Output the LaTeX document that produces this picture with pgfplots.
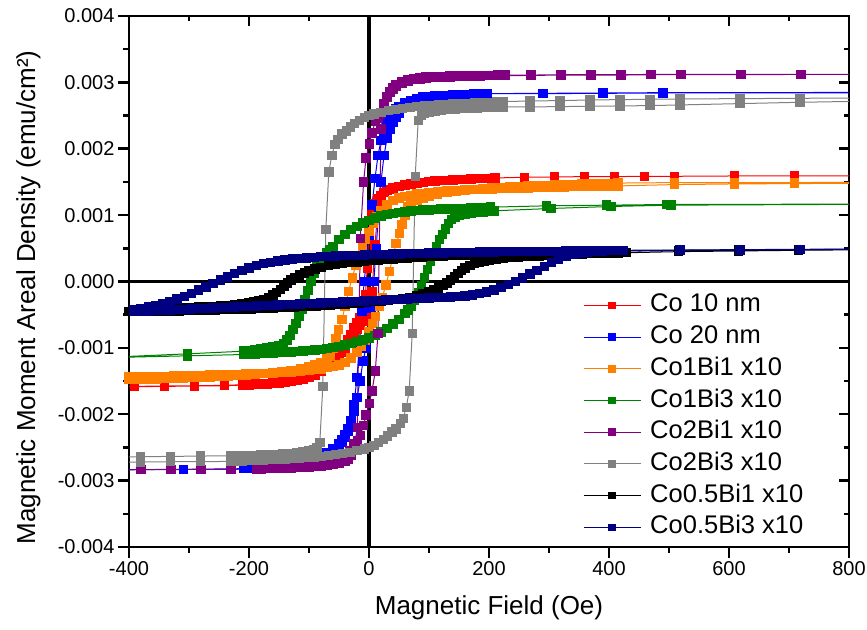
\documentclass[border=0pt]{standalone}
\usepackage{fontspec}
\setmainfont{Liberation Sans}
\usepackage{pgfplots}
\pgfplotsset{compat=1.18}

\definecolor{cRed}{RGB}{255,0,0}
\definecolor{cBlue}{RGB}{0,0,255}
\definecolor{cOrange}{RGB}{255,128,0}
\definecolor{cGreen}{RGB}{0,128,0}
\definecolor{cPurple}{RGB}{128,0,128}
\definecolor{cGray}{RGB}{128,128,128}
\definecolor{cBlack}{RGB}{0,0,0}
\definecolor{cNavy}{RGB}{0,0,128}

\begin{document}
\begin{tikzpicture}
\useasboundingbox (0,0) rectangle (867pt,629pt);

% inward ticks on the top and right edges
\begin{axis}[
  at={(129pt,82pt)}, anchor=south west,
  scale only axis, width=720pt, height=531pt,
  xmin=-400, xmax=800, ymin=-0.004, ymax=0.004,
  xtick={-400,-200,0,200,400,600,800},
  ytick={-0.004,-0.003,-0.002,-0.001,0,0.001,0.002,0.003,0.004},
  minor x tick num=1, minor y tick num=1,
  xticklabels={}, yticklabels={},
  scaled ticks=false,
  tick align=inside, xtick pos=right, ytick pos=right,
  major tick length=10pt, minor tick length=5pt,
  tick style={black, line width=2.5pt},
  axis line style={draw=none},
]
\end{axis}

\begin{axis}[
  at={(129pt,82pt)}, anchor=south west,
  scale only axis, width=720pt, height=531pt,
  xmin=-400, xmax=800, ymin=-0.004, ymax=0.004,
  xtick={-400,-200,0,200,400,600,800},
  xticklabels={-400,-200,0,200,400,600,800},
  ytick={-0.004,-0.003,-0.002,-0.001,0,0.001,0.002,0.003,0.004},
  yticklabels={-0.004,-0.003,-0.002,-0.001,0.000,0.001,0.002,0.003,0.004},
  minor x tick num=1, minor y tick num=1,
  scaled ticks=false,
  tick align=outside, xtick pos=left, ytick pos=left,
  major tick length=11pt, minor tick length=6pt,
  tick style={black, line width=2.5pt},
  axis line style={line width=2.5pt},
  ticklabel style={font=\fontsize{20}{24}\selectfont},
  every axis plot/.append style={line width=1pt, mark=square*, mark size=4.2pt, mark options={solid}},
  legend style={at={(0.6306,0.477)}, anchor=north west, draw=none, fill=none,
    inner sep=0pt, row sep=8.7pt, column sep=9pt,
    font=\fontsize{25.5}{30}\selectfont,
    nodes={inner sep=0pt, text height=18pt, text depth=5pt}},
  legend cell align=left,
  legend image code/.code={
    \draw[mark size=3.3pt, mark repeat=2, mark phase=2]
      plot coordinates {(0pt,0pt) (28.5pt,0pt) (57pt,0pt)};
  },
]

% zero lines
\draw[line width=3.5pt] (axis cs:0,-0.004) -- (axis cs:0,0.004);
\draw[line width=3.5pt] (axis cs:-400,0) -- (axis cs:800,0);

% Co 10 nm
\addplot[color=cRed] table[x=F,y=M] {
F M
909 1.59e-3
809 1.59e-3
709 1.59e-3
609 1.59e-3
509 1.585e-3
459 1.585e-3
409 1.58e-3
359 1.58e-3
309 1.575e-3
259 1.57e-3
210 1.56e-3
200 1.555e-3
190 1.55e-3
180 1.548e-3
170 1.545e-3
160 1.54e-3
150 1.535e-3
140 1.53e-3
130 1.525e-3
120 1.52e-3
110 1.512e-3
100 1.505e-3
90 1.495e-3
80 1.485e-3
70 1.47e-3
60 1.455e-3
50 1.435e-3
40 1.41e-3
35 1.39e-3
30 1.37e-3
25 1.34e-3
20 1.30e-3
15 1.25e-3
10 1.17e-3
5 1.05e-3
0 0.75e-3
-3 0.2e-3
-6 -0.2e-3
-10 -0.45e-3
-15 -0.55e-3
-20 -0.62e-3
-25 -0.69e-3
-30 -0.8e-3
-35 -0.88e-3
-40 -0.95e-3
-45 -1.0e-3
-50 -1.05e-3
-55 -1.1e-3
-60 -1.15e-3
-70 -1.23e-3
-80 -1.3e-3
-90 -1.36e-3
-100 -1.41e-3
-110 -1.44e-3
-120 -1.47e-3
-130 -1.49e-3
-140 -1.505e-3
-150 -1.515e-3
-160 -1.525e-3
-170 -1.535e-3
-180 -1.54e-3
-190 -1.545e-3
-200 -1.55e-3
-210 -1.555e-3
-241 -1.565e-3
-291 -1.57e-3
-341 -1.575e-3
-391 -1.58e-3
-441 -1.58e-3
-441 -1.585e-3
-391 -1.585e-3
-341 -1.58e-3
-291 -1.575e-3
-241 -1.57e-3
-210 -1.56e-3
-200 -1.558e-3
-190 -1.555e-3
-180 -1.55e-3
-170 -1.545e-3
-160 -1.54e-3
-150 -1.53e-3
-140 -1.52e-3
-130 -1.51e-3
-120 -1.495e-3
-110 -1.475e-3
-100 -1.45e-3
-90 -1.41e-3
-80 -1.36e-3
-70 -1.3e-3
-60 -1.23e-3
-55 -1.18e-3
-50 -1.13e-3
-45 -1.07e-3
-40 -1.0e-3
-35 -0.93e-3
-30 -0.86e-3
-25 -0.79e-3
-20 -0.72e-3
-15 -0.66e-3
-10 -0.6e-3
-5 -0.52e-3
0 -0.4e-3
5 -0.15e-3
10 0.55e-3
15 1.12e-3
20 1.28e-3
25 1.34e-3
30 1.37e-3
35 1.39e-3
40 1.41e-3
50 1.435e-3
60 1.455e-3
70 1.47e-3
80 1.485e-3
90 1.495e-3
100 1.505e-3
110 1.512e-3
120 1.52e-3
130 1.525e-3
140 1.53e-3
150 1.535e-3
160 1.54e-3
170 1.545e-3
180 1.548e-3
190 1.55e-3
200 1.555e-3
210 1.56e-3
259 1.57e-3
309 1.575e-3
359 1.58e-3
409 1.58e-3
459 1.585e-3
509 1.585e-3
609 1.59e-3
709 1.59e-3
809 1.59e-3
909 1.59e-3
};
\addlegendentry{Co 10 nm}

% Co 20 nm
\addplot[color=cBlue] table[x=F,y=M] {
F M
1000 2.845e-3
490 2.84e-3
390 2.835e-3
290 2.83e-3
197 2.83e-3
185 2.825e-3
170 2.82e-3
155 2.815e-3
140 2.81e-3
125 2.80e-3
110 2.795e-3
100 2.79e-3
90 2.78e-3
80 2.76e-3
70 2.73e-3
60 2.70e-3
50 2.64e-3
45 2.60e-3
40 2.54e-3
35 2.47e-3
30 2.38e-3
25 2.27e-3
20 2.12e-3
15 1.90e-3
10 1.55e-3
5 1.15e-3
0 0.70e-3
-4 0.35e-3
-8 0.0e-3
-12 -0.45e-3
-16 -0.95e-3
-20 -1.45e-3
-25 -1.85e-3
-30 -2.10e-3
-35 -2.25e-3
-40 -2.35e-3
-45 -2.42e-3
-50 -2.47e-3
-60 -2.55e-3
-70 -2.60e-3
-80 -2.65e-3
-90 -2.68e-3
-100 -2.71e-3
-115 -2.74e-3
-130 -2.765e-3
-145 -2.78e-3
-160 -2.795e-3
-175 -2.805e-3
-190 -2.815e-3
-209 -2.82e-3
-309 -2.83e-3
-409 -2.835e-3
-509 -2.84e-3
-509 -2.84e-3
-409 -2.835e-3
-309 -2.83e-3
-209 -2.82e-3
-195 -2.815e-3
-180 -2.805e-3
-165 -2.79e-3
-150 -2.775e-3
-135 -2.755e-3
-120 -2.735e-3
-105 -2.71e-3
-90 -2.67e-3
-80 -2.63e-3
-70 -2.58e-3
-60 -2.52e-3
-50 -2.44e-3
-45 -2.38e-3
-40 -2.31e-3
-35 -2.22e-3
-30 -2.10e-3
-25 -1.95e-3
-20 -1.75e-3
-15 -1.50e-3
-10 -1.20e-3
-5 -1.00e-3
0 -0.80e-3
4 -0.40e-3
8 0.0e-3
12 0.50e-3
16 1.05e-3
20 1.50e-3
25 1.90e-3
30 2.15e-3
35 2.30e-3
40 2.40e-3
45 2.48e-3
50 2.54e-3
60 2.63e-3
70 2.69e-3
80 2.73e-3
90 2.76e-3
100 2.78e-3
115 2.795e-3
130 2.805e-3
145 2.81e-3
160 2.82e-3
175 2.825e-3
197 2.83e-3
290 2.835e-3
390 2.84e-3
490 2.845e-3
1000 2.85e-3
};
\addlegendentry{Co 20 nm}

% Co1Bi1 x10
\addplot[color=cOrange] table[x=F,y=M] {
F M
909 1.49e-3
809 1.48e-3
709 1.475e-3
609 1.47e-3
509 1.46e-3
415 1.44e-3
400 1.438e-3
385 1.435e-3
370 1.432e-3
355 1.43e-3
340 1.427e-3
325 1.424e-3
310 1.42e-3
295 1.417e-3
280 1.414e-3
265 1.41e-3
250 1.407e-3
235 1.404e-3
220 1.40e-3
205 1.395e-3
190 1.39e-3
175 1.385e-3
160 1.38e-3
145 1.375e-3
130 1.365e-3
115 1.355e-3
100 1.34e-3
90 1.33e-3
80 1.32e-3
70 1.30e-3
60 1.28e-3
50 1.26e-3
40 1.22e-3
30 1.15e-3
20 1.06e-3
13 0.98e-3
7 0.88e-3
0 0.75e-3
-6 0.63e-3
-11 0.53e-3
-17 0.38e-3
-22 0.25e-3
-28 0.05e-3
-34 -0.15e-3
-40 -0.38e-3
-45 -0.57e-3
-51 -0.72e-3
-55 -0.86e-3
-60 -1.0e-3
-65 -1.12e-3
-70 -1.17e-3
-80 -1.22e-3
-90 -1.26e-3
-100 -1.29e-3
-114 -1.32e-3
-130 -1.345e-3
-145 -1.36e-3
-160 -1.375e-3
-175 -1.39e-3
-190 -1.40e-3
-205 -1.41e-3
-220 -1.42e-3
-235 -1.427e-3
-250 -1.434e-3
-265 -1.44e-3
-280 -1.445e-3
-295 -1.45e-3
-310 -1.455e-3
-325 -1.46e-3
-340 -1.465e-3
-355 -1.468e-3
-370 -1.472e-3
-385 -1.476e-3
-400 -1.48e-3
-415 -1.483e-3
-509 -1.49e-3
-509 -1.46e-3
-415 -1.44e-3
-400 -1.438e-3
-385 -1.435e-3
-370 -1.432e-3
-355 -1.43e-3
-340 -1.427e-3
-325 -1.424e-3
-310 -1.42e-3
-295 -1.417e-3
-280 -1.414e-3
-265 -1.41e-3
-250 -1.407e-3
-235 -1.404e-3
-220 -1.40e-3
-205 -1.395e-3
-190 -1.39e-3
-175 -1.385e-3
-160 -1.38e-3
-145 -1.375e-3
-130 -1.365e-3
-115 -1.355e-3
-100 -1.34e-3
-90 -1.33e-3
-80 -1.32e-3
-70 -1.30e-3
-60 -1.28e-3
-50 -1.26e-3
-40 -1.22e-3
-30 -1.15e-3
-20 -1.06e-3
-13 -0.98e-3
-7 -0.88e-3
0 -0.75e-3
6 -0.63e-3
11 -0.53e-3
17 -0.38e-3
22 -0.25e-3
28 -0.05e-3
34 0.15e-3
40 0.38e-3
45 0.57e-3
51 0.72e-3
55 0.86e-3
60 1.0e-3
65 1.12e-3
70 1.17e-3
80 1.22e-3
90 1.26e-3
100 1.29e-3
114 1.32e-3
130 1.345e-3
145 1.36e-3
160 1.375e-3
175 1.39e-3
190 1.40e-3
205 1.41e-3
220 1.42e-3
235 1.427e-3
250 1.434e-3
265 1.44e-3
280 1.445e-3
295 1.45e-3
310 1.455e-3
325 1.46e-3
340 1.465e-3
355 1.468e-3
370 1.472e-3
385 1.476e-3
400 1.48e-3
415 1.483e-3
509 1.49e-3
609 1.49e-3
709 1.49e-3
809 1.495e-3
909 1.495e-3
};
\addlegendentry{Co1Bi1 x10}

% Co1Bi3 x10
\addplot[color=cGreen] table[x=F,y=M] {
F M
996 1.17e-3
496 1.16e-3
396 1.15e-3
296 1.14e-3
202 1.12e-3
190 1.115e-3
180 1.11e-3
170 1.107e-3
160 1.104e-3
150 1.10e-3
140 1.097e-3
130 1.094e-3
120 1.09e-3
110 1.085e-3
100 1.08e-3
90 1.075e-3
80 1.07e-3
70 1.06e-3
60 1.05e-3
50 1.04e-3
40 1.025e-3
30 1.005e-3
20 0.985e-3
10 0.955e-3
0 0.92e-3
-10 0.88e-3
-20 0.83e-3
-30 0.78e-3
-40 0.71e-3
-50 0.63e-3
-60 0.53e-3
-65 0.48e-3
-70 0.43e-3
-76 0.37e-3
-82 0.29e-3
-87 0.22e-3
-92 0.12e-3
-97 0.0e-3
-102 -0.14e-3
-107 -0.28e-3
-112 -0.42e-3
-117 -0.53e-3
-122 -0.63e-3
-127 -0.72e-3
-132 -0.81e-3
-137 -0.88e-3
-143 -0.93e-3
-150 -0.96e-3
-160 -0.985e-3
-170 -1.0e-3
-180 -1.015e-3
-190 -1.03e-3
-200 -1.04e-3
-209 -1.05e-3
-303 -1.09e-3
-403 -1.13e-3
-503 -1.15e-3
-503 -1.16e-3
-403 -1.14e-3
-303 -1.12e-3
-209 -1.10e-3
-200 -1.095e-3
-190 -1.09e-3
-180 -1.085e-3
-170 -1.08e-3
-160 -1.075e-3
-150 -1.07e-3
-140 -1.065e-3
-130 -1.06e-3
-120 -1.055e-3
-110 -1.05e-3
-100 -1.04e-3
-90 -1.03e-3
-80 -1.02e-3
-70 -1.005e-3
-60 -0.99e-3
-50 -0.975e-3
-40 -0.955e-3
-30 -0.93e-3
-20 -0.905e-3
-10 -0.88e-3
0 -0.85e-3
10 -0.81e-3
20 -0.76e-3
30 -0.71e-3
40 -0.64e-3
50 -0.57e-3
60 -0.48e-3
65 -0.43e-3
70 -0.37e-3
76 -0.28e-3
82 -0.17e-3
87 -0.06e-3
92 0.06e-3
97 0.18e-3
102 0.30e-3
107 0.43e-3
112 0.53e-3
117 0.63e-3
122 0.71e-3
127 0.79e-3
132 0.87e-3
137 0.93e-3
143 0.97e-3
150 0.99e-3
160 1.01e-3
170 1.025e-3
180 1.04e-3
190 1.05e-3
200 1.06e-3
209 1.065e-3
303 1.10e-3
403 1.13e-3
503 1.15e-3
996 1.17e-3
};
\addlegendentry{Co1Bi3 x10}

% Co2Bi1 x10
\addplot[color=cPurple] table[x=F,y=M] {
F M
920 3.12e-3
820 3.12e-3
720 3.12e-3
620 3.115e-3
520 3.115e-3
470 3.115e-3
420 3.11e-3
370 3.11e-3
320 3.11e-3
270 3.105e-3
227 3.10e-3
215 3.10e-3
205 3.10e-3
195 3.10e-3
185 3.095e-3
175 3.095e-3
165 3.09e-3
155 3.09e-3
145 3.085e-3
135 3.08e-3
125 3.08e-3
115 3.075e-3
105 3.07e-3
95 3.06e-3
85 3.05e-3
75 3.04e-3
65 3.02e-3
55 2.99e-3
45 2.94e-3
40 2.90e-3
35 2.85e-3
30 2.78e-3
25 2.68e-3
19 2.52e-3
15 2.46e-3
10.5 2.41e-3
5 2.24e-3
0.5 2.07e-3
-5 1.86e-3
-9 1.50e-3
-14.5 0.65e-3
-19.5 -2.20e-3
-24.5 -2.50e-3
-30 -2.62e-3
-35 -2.68e-3
-40 -2.71e-3
-50 -2.74e-3
-60 -2.76e-3
-70 -2.77e-3
-80 -2.78e-3
-90 -2.79e-3
-100 -2.795e-3
-110 -2.80e-3
-120 -2.805e-3
-130 -2.81e-3
-140 -2.81e-3
-150 -2.815e-3
-160 -2.82e-3
-170 -2.82e-3
-180 -2.825e-3
-187 -2.825e-3
-230 -2.83e-3
-280 -2.83e-3
-330 -2.835e-3
-380 -2.835e-3
-430 -2.84e-3
-430 -2.84e-3
-380 -2.835e-3
-330 -2.835e-3
-280 -2.83e-3
-230 -2.83e-3
-187 -2.825e-3
-180 -2.82e-3
-170 -2.82e-3
-160 -2.815e-3
-150 -2.81e-3
-140 -2.805e-3
-130 -2.80e-3
-120 -2.795e-3
-110 -2.79e-3
-100 -2.78e-3
-90 -2.77e-3
-80 -2.75e-3
-70 -2.73e-3
-60 -2.71e-3
-50 -2.68e-3
-40 -2.62e-3
-33 -2.55e-3
-25 -2.45e-3
-19.5 -2.40e-3
-14.5 -2.32e-3
-9 -2.17e-3
-5 -2.01e-3
0.5 -1.84e-3
5 -1.65e-3
10.5 -1.35e-3
15 -0.78e-3
20 2.30e-3
25 2.60e-3
30 2.78e-3
35 2.86e-3
40 2.92e-3
45 2.96e-3
55 3.01e-3
65 3.04e-3
75 3.06e-3
85 3.07e-3
95 3.08e-3
105 3.085e-3
115 3.09e-3
125 3.09e-3
135 3.095e-3
145 3.095e-3
155 3.10e-3
165 3.10e-3
175 3.10e-3
185 3.105e-3
195 3.105e-3
205 3.105e-3
215 3.11e-3
227 3.11e-3
270 3.11e-3
320 3.115e-3
370 3.115e-3
420 3.115e-3
470 3.12e-3
520 3.12e-3
620 3.12e-3
720 3.12e-3
820 3.12e-3
920 3.12e-3
};
\addlegendentry{Co2Bi1 x10}

% Co2Bi3 x10
\addplot[color=cGray] table[x=F,y=M] {
F M
918 2.77e-3
818 2.765e-3
718 2.76e-3
618 2.755e-3
518 2.75e-3
468 2.745e-3
418 2.74e-3
368 2.735e-3
318 2.725e-3
268 2.72e-3
224 2.71e-3
212 2.705e-3
200 2.70e-3
188 2.695e-3
176 2.69e-3
164 2.685e-3
152 2.68e-3
140 2.675e-3
128 2.67e-3
116 2.665e-3
104 2.655e-3
92 2.645e-3
80 2.635e-3
68 2.625e-3
56 2.61e-3
44 2.595e-3
32 2.575e-3
20 2.55e-3
8 2.525e-3
0 2.50e-3
-8 2.47e-3
-16 2.43e-3
-24 2.38e-3
-31 2.33e-3
-38 2.27e-3
-45 2.22e-3
-52 2.14e-3
-57 2.06e-3
-62 1.90e-3
-67 1.65e-3
-72 0.78e-3
-77 -1.58e-3
-82 -2.43e-3
-87 -2.50e-3
-92 -2.53e-3
-100 -2.555e-3
-110 -2.57e-3
-120 -2.58e-3
-132 -2.59e-3
-144 -2.60e-3
-156 -2.605e-3
-168 -2.61e-3
-180 -2.615e-3
-192 -2.618e-3
-204 -2.62e-3
-216 -2.622e-3
-224 -2.625e-3
-231 -2.625e-3
-281 -2.63e-3
-331 -2.635e-3
-381 -2.64e-3
-431 -2.645e-3
-431 -2.72e-3
-381 -2.72e-3
-331 -2.715e-3
-281 -2.715e-3
-231 -2.71e-3
-224 -2.71e-3
-212 -2.705e-3
-200 -2.70e-3
-188 -2.695e-3
-176 -2.69e-3
-164 -2.685e-3
-152 -2.68e-3
-140 -2.675e-3
-128 -2.67e-3
-116 -2.665e-3
-104 -2.655e-3
-92 -2.645e-3
-80 -2.635e-3
-68 -2.625e-3
-56 -2.61e-3
-44 -2.595e-3
-32 -2.575e-3
-20 -2.55e-3
-8 -2.525e-3
0 -2.50e-3
8 -2.47e-3
16 -2.43e-3
24 -2.38e-3
31 -2.33e-3
38 -2.27e-3
45 -2.22e-3
52 -2.14e-3
57 -2.06e-3
62 -1.90e-3
67 -1.65e-3
72 -0.78e-3
77 1.58e-3
82 2.43e-3
87 2.50e-3
92 2.53e-3
100 2.555e-3
110 2.57e-3
120 2.58e-3
132 2.59e-3
144 2.60e-3
156 2.605e-3
168 2.61e-3
180 2.615e-3
192 2.618e-3
204 2.62e-3
216 2.625e-3
224 2.63e-3
268 2.63e-3
318 2.635e-3
368 2.64e-3
418 2.645e-3
468 2.65e-3
518 2.66e-3
618 2.68e-3
718 2.70e-3
818 2.715e-3
918 2.725e-3
};
\addlegendentry{Co2Bi3 x10}

% Co0.5Bi1 x10
\addplot[color=cBlack] table[x=F,y=M] {
F M
916 0.49e-3
816 0.485e-3
716 0.48e-3
616 0.475e-3
516 0.47e-3
424 0.46e-3
412 0.458e-3
400 0.456e-3
388 0.454e-3
376 0.452e-3
364 0.45e-3
352 0.448e-3
340 0.446e-3
328 0.444e-3
316 0.442e-3
304 0.44e-3
292 0.437e-3
280 0.434e-3
268 0.431e-3
256 0.428e-3
244 0.425e-3
232 0.422e-3
220 0.419e-3
208 0.416e-3
196 0.412e-3
184 0.408e-3
172 0.404e-3
160 0.40e-3
148 0.395e-3
136 0.39e-3
124 0.385e-3
112 0.38e-3
100 0.374e-3
88 0.368e-3
76 0.362e-3
64 0.355e-3
52 0.348e-3
40 0.34e-3
28 0.332e-3
16 0.324e-3
4 0.315e-3
-8 0.305e-3
-20 0.295e-3
-32 0.285e-3
-44 0.272e-3
-56 0.258e-3
-68 0.24e-3
-80 0.215e-3
-90 0.19e-3
-100 0.16e-3
-108 0.13e-3
-116 0.095e-3
-124 0.055e-3
-130 0.02e-3
-136 -0.02e-3
-142 -0.07e-3
-148 -0.12e-3
-154 -0.17e-3
-160 -0.205e-3
-168 -0.24e-3
-176 -0.27e-3
-184 -0.29e-3
-192 -0.305e-3
-200 -0.32e-3
-212 -0.335e-3
-224 -0.348e-3
-236 -0.358e-3
-248 -0.366e-3
-260 -0.373e-3
-272 -0.38e-3
-284 -0.386e-3
-296 -0.392e-3
-308 -0.397e-3
-320 -0.402e-3
-332 -0.406e-3
-344 -0.41e-3
-356 -0.414e-3
-368 -0.418e-3
-380 -0.421e-3
-392 -0.424e-3
-404 -0.427e-3
-416 -0.43e-3
-428 -0.433e-3
-516 -0.45e-3
-516 -0.47e-3
-424 -0.46e-3
-412 -0.458e-3
-400 -0.456e-3
-388 -0.454e-3
-376 -0.452e-3
-364 -0.45e-3
-352 -0.448e-3
-340 -0.446e-3
-328 -0.444e-3
-316 -0.442e-3
-304 -0.44e-3
-292 -0.437e-3
-280 -0.434e-3
-268 -0.431e-3
-256 -0.428e-3
-244 -0.425e-3
-232 -0.422e-3
-220 -0.419e-3
-208 -0.416e-3
-196 -0.412e-3
-184 -0.408e-3
-172 -0.404e-3
-160 -0.40e-3
-148 -0.395e-3
-136 -0.39e-3
-124 -0.385e-3
-112 -0.38e-3
-100 -0.374e-3
-88 -0.368e-3
-76 -0.362e-3
-64 -0.355e-3
-52 -0.348e-3
-40 -0.34e-3
-28 -0.332e-3
-16 -0.324e-3
-4 -0.315e-3
8 -0.305e-3
20 -0.295e-3
32 -0.285e-3
44 -0.272e-3
56 -0.258e-3
68 -0.24e-3
80 -0.215e-3
90 -0.19e-3
100 -0.16e-3
108 -0.13e-3
116 -0.095e-3
124 -0.055e-3
130 -0.02e-3
136 0.02e-3
142 0.07e-3
148 0.12e-3
154 0.17e-3
160 0.205e-3
168 0.24e-3
176 0.27e-3
184 0.29e-3
192 0.305e-3
200 0.32e-3
212 0.335e-3
224 0.348e-3
236 0.358e-3
248 0.366e-3
260 0.373e-3
272 0.38e-3
284 0.386e-3
296 0.392e-3
308 0.397e-3
320 0.402e-3
332 0.406e-3
344 0.41e-3
356 0.414e-3
368 0.418e-3
380 0.421e-3
392 0.424e-3
404 0.427e-3
416 0.43e-3
428 0.433e-3
516 0.45e-3
616 0.46e-3
716 0.47e-3
816 0.478e-3
916 0.485e-3
};
\addlegendentry{Co0.5Bi1 x10}

% Co0.5Bi3 x10
\addplot[color=cNavy] table[x=F,y=M] {
F M
918 0.49e-3
818 0.485e-3
718 0.48e-3
618 0.475e-3
518 0.47e-3
424 0.465e-3
412 0.464e-3
400 0.463e-3
388 0.462e-3
376 0.461e-3
364 0.46e-3
352 0.459e-3
340 0.458e-3
328 0.457e-3
316 0.456e-3
304 0.455e-3
292 0.454e-3
280 0.453e-3
268 0.452e-3
256 0.451e-3
244 0.45e-3
232 0.449e-3
220 0.448e-3
208 0.446e-3
196 0.444e-3
184 0.442e-3
172 0.44e-3
160 0.438e-3
148 0.436e-3
136 0.434e-3
124 0.432e-3
112 0.43e-3
100 0.428e-3
88 0.425e-3
76 0.422e-3
64 0.419e-3
52 0.416e-3
40 0.413e-3
28 0.41e-3
16 0.407e-3
4 0.404e-3
-8 0.40e-3
-20 0.396e-3
-32 0.392e-3
-44 0.388e-3
-56 0.384e-3
-68 0.38e-3
-80 0.374e-3
-92 0.366e-3
-104 0.357e-3
-116 0.347e-3
-128 0.336e-3
-140 0.323e-3
-152 0.308e-3
-164 0.29e-3
-176 0.268e-3
-188 0.24e-3
-200 0.205e-3
-212 0.165e-3
-224 0.12e-3
-236 0.07e-3
-248 0.02e-3
-260 -0.03e-3
-272 -0.08e-3
-284 -0.13e-3
-296 -0.18e-3
-308 -0.225e-3
-320 -0.265e-3
-332 -0.30e-3
-344 -0.33e-3
-356 -0.36e-3
-368 -0.385e-3
-380 -0.41e-3
-392 -0.43e-3
-404 -0.445e-3
-416 -0.455e-3
-428 -0.46e-3
-518 -0.475e-3
-518 -0.48e-3
-428 -0.465e-3
-416 -0.462e-3
-404 -0.458e-3
-392 -0.455e-3
-380 -0.45e-3
-368 -0.445e-3
-356 -0.44e-3
-344 -0.435e-3
-332 -0.43e-3
-320 -0.425e-3
-308 -0.42e-3
-296 -0.415e-3
-284 -0.41e-3
-272 -0.405e-3
-260 -0.40e-3
-248 -0.395e-3
-236 -0.39e-3
-224 -0.385e-3
-212 -0.38e-3
-200 -0.375e-3
-188 -0.37e-3
-176 -0.365e-3
-164 -0.36e-3
-152 -0.355e-3
-140 -0.35e-3
-128 -0.345e-3
-116 -0.34e-3
-104 -0.335e-3
-92 -0.33e-3
-80 -0.325e-3
-68 -0.32e-3
-56 -0.315e-3
-44 -0.31e-3
-32 -0.305e-3
-20 -0.30e-3
-8 -0.295e-3
4 -0.29e-3
16 -0.285e-3
28 -0.28e-3
40 -0.275e-3
52 -0.27e-3
64 -0.265e-3
76 -0.26e-3
88 -0.255e-3
100 -0.25e-3
112 -0.245e-3
124 -0.24e-3
136 -0.235e-3
148 -0.228e-3
160 -0.22e-3
172 -0.205e-3
184 -0.185e-3
196 -0.16e-3
208 -0.13e-3
220 -0.09e-3
232 -0.045e-3
244 0.0e-3
256 0.05e-3
268 0.11e-3
280 0.17e-3
292 0.23e-3
304 0.29e-3
316 0.34e-3
328 0.38e-3
340 0.41e-3
352 0.43e-3
364 0.445e-3
376 0.455e-3
388 0.46e-3
400 0.465e-3
412 0.467e-3
424 0.47e-3
518 0.475e-3
618 0.48e-3
718 0.485e-3
818 0.49e-3
918 0.495e-3
};
\addlegendentry{Co0.5Bi3 x10}

\end{axis}

\node[rotate=90, anchor=base, font=\fontsize{26}{30}\selectfont] at (35pt,331.5pt)
  {Magnetic Moment Areal Density (emu/cm²)};
\node[anchor=base, font=\fontsize{26}{30}\selectfont] at (489pt,15pt)
  {Magnetic Field (Oe)};
\end{tikzpicture}
\end{document}
